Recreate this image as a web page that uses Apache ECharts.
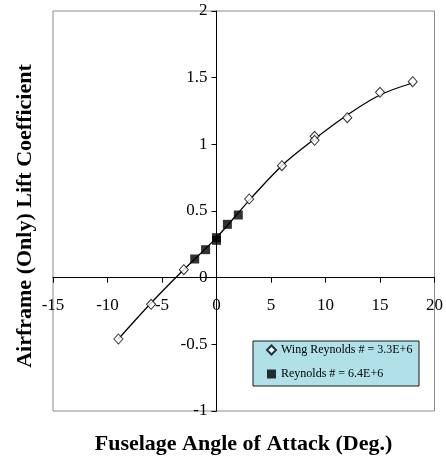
<!DOCTYPE html>
<html>
<head>
<meta charset="utf-8">
<script src="https://cdn.jsdelivr.net/npm/echarts@6/dist/echarts.min.js"></script>
<style>
  html, body { margin: 0; padding: 0; background: #fff; }
  #chart { width: 446px; height: 460px; }
</style>
</head>
<body>
<div id="chart"></div>
<script>
// Wing Reynolds number 3.3E+6: angle of attack (deg) and lift coefficient
const wingAlpha = [-9, -6, -3, 3, 6, 9, 9, 12, 15, 18];
const wingCL    = [-0.46, -0.20, 0.06, 0.59, 0.84, 1.06, 1.03, 1.20, 1.39, 1.47];

// Reynolds number 6.4E+6
const highReAlpha = [-2, -1, 0, 0, 1, 2];
const highReCL    = [0.14, 0.21, 0.28, 0.30, 0.40, 0.47];

// Fitted lift curve, read at these angles
const fitAlpha = [-9, -6, -3, 0, 3, 6, 9, 12, 15, 18];
const fitCL    = [-0.46, -0.19, 0.06, 0.30, 0.58, 0.84, 1.04, 1.22, 1.37, 1.46];

const xTicks = { min: -15, max: 20, step: 5 };
const yTicks = { min: -1, max: 2, step: 0.5 };

const seriesNames = ['Wing Reynolds # = 3.3E+6', 'Reynolds # = 6.4E+6'];
const xTitle = 'Fuselage Angle of Attack (Deg.)';
const yTitle = 'Airframe (Only) Lift Coefficient';

const zip = (a, b) => a.map((v, i) => [v, b[i]]);
const serif = '"Liberation Serif", "Times New Roman", serif';

const chart = echarts.init(document.getElementById('chart'), null, { renderer: 'canvas' });

const axisCommon = {
  type: 'value',
  axisLine: { onZero: false, lineStyle: { color: '#000', width: 1 } },
  axisTick: { show: true, inside: false, length: 5, lineStyle: { color: '#000' } },
  splitLine: { show: false }
};

chart.setOption({
  animation: false,
  backgroundColor: '#ffffff',
  textStyle: { fontFamily: serif, color: '#000' },
  grid: {
    left: 53, right: 10, top: 11, bottom: 49,
    show: true, borderColor: '#8c8c8c', borderWidth: 1, backgroundColor: 'transparent'
  },
  xAxis: Object.assign({}, axisCommon, {
    position: 'bottom',
    min: xTicks.min, max: xTicks.max, interval: xTicks.step,
    axisLabel: { margin: 19, fontSize: 17, fontFamily: serif, color: '#000', showMinLabel: true, showMaxLabel: true }
  }),
  yAxis: Object.assign({}, axisCommon, {
    position: 'left',
    min: yTicks.min, max: yTicks.max, interval: yTicks.step,
    axisLabel: { margin: 9, fontSize: 17, fontFamily: serif, color: '#000', showMinLabel: true, showMaxLabel: true }
  }),
  legend: {
    orient: 'vertical',
    left: 266, top: 343,
    z: 20,
    itemWidth: 9, itemHeight: 9,
    itemGap: 10,
    padding: 0,
    textStyle: { fontFamily: serif, fontSize: 12, color: '#000', lineHeight: 14 },
    data: seriesNames
  },
  graphic: [
    {
      id: 'legendBox',
      type: 'rect', z: 10,
      shape: { x: 253, y: 341, width: 166, height: 45 },
      style: { fill: '#b0e0e8', stroke: '#1a1a1a', lineWidth: 1 }
    },
    {
      type: 'text', z: 10,
      x: 243.5, y: 444,
      style: { text: xTitle, font: 'bold 22px ' + serif, fill: '#000', align: 'center', verticalAlign: 'middle' }
    },
    {
      type: 'text', z: 10,
      x: 25, y: 216,
      rotation: Math.PI / 2,
      style: { text: yTitle, font: 'bold 22px ' + serif, fill: '#000', align: 'center', verticalAlign: 'middle' }
    }
  ],
  series: [
    {
      name: 'fit',
      type: 'line',
      data: zip(fitAlpha, fitCL),
      smooth: 0.35,
      symbol: 'none',
      lineStyle: { color: '#000', width: 1.3 },
      z: 2,
      silent: true
    },
    {
      name: seriesNames[0],
      type: 'scatter',
      data: zip(wingAlpha, wingCL),
      symbol: 'diamond',
      symbolSize: [9, 10],
      itemStyle: { color: '#fff', borderColor: '#000', borderWidth: 1 },
      z: 5
    },
    {
      name: seriesNames[1],
      type: 'scatter',
      data: zip(highReAlpha, highReCL),
      symbol: 'rect',
      symbolSize: 9,
      itemStyle: { color: '#000', borderColor: '#000', borderWidth: 0 },
      z: 6
    }
  ]
});

// Move both axes so they cross at the origin, labels included.
const xZero = chart.convertToPixel({ xAxisIndex: 0 }, 0);
const xLeft = chart.convertToPixel({ xAxisIndex: 0 }, xTicks.min);
const yZero = chart.convertToPixel({ yAxisIndex: 0 }, 0);
const yBottom = chart.convertToPixel({ yAxisIndex: 0 }, yTicks.min);
chart.setOption({
  xAxis: { offset: yZero - yBottom },
  yAxis: { offset: xLeft - xZero }
});
</script>
</body>
</html>
